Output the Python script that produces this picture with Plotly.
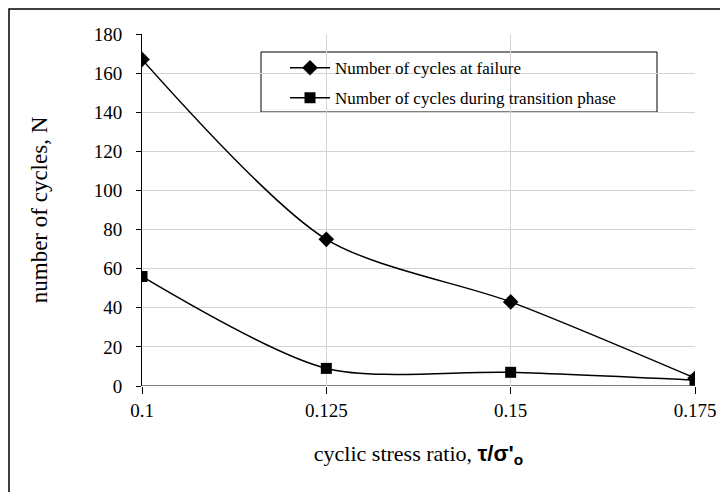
import plotly.graph_objects as go

x_vals = [0.1, 0.125, 0.15, 0.175]
failure = [167, 75, 43, 4]
transition = [56, 9, 7, 3]
name_fail = "Number of cycles at failure"
name_trans = "Number of cycles during transition phase"
y_ticks = [0, 20, 40, 60, 80, 100, 120, 140, 160, 180]
x_ticks = [0.1, 0.125, 0.15, 0.175]
x_labels = ["0.1", "0.125", "0.15", "0.175"]

serif = "Liberation Serif, Times New Roman, serif"

fig = go.Figure()
fig.add_trace(go.Scatter(x=x_vals, y=failure, name=name_fail, mode="lines+markers",
                         legendgroup="a",
                         line=dict(color="black", width=1.5, shape="spline", smoothing=0.8),
                         marker=dict(symbol="diamond", size=12, color="black")))
fig.add_trace(go.Scatter(x=x_vals, y=transition, name=name_trans, mode="lines+markers",
                         legendgroup="b",
                         line=dict(color="black", width=1.5, shape="spline", smoothing=0.8),
                         marker=dict(symbol="square", size=11, color="black")))

fig.update_layout(
    width=720, height=492,
    margin=dict(l=142, r=25, t=34, b=106),
    paper_bgcolor="white", plot_bgcolor="white",
    font=dict(family=serif, color="black", size=19),
    showlegend=True,
    legend=dict(x=0.2586, y=0.954, xanchor="left", yanchor="top",
                borderwidth=0, bgcolor="rgba(0,0,0,0)",
                font=dict(family=serif, size=17, color="black"),
                tracegroupgap=5, itemwidth=40),
    xaxis=dict(range=[0.1, 0.175], tickvals=x_ticks, ticktext=x_labels,
               showgrid=True, gridcolor="#d4d4d4", gridwidth=1,
               showline=False, zeroline=False, ticks="outside", ticklen=7,
               tickcolor="black", tickfont=dict(size=19, family=serif),
               automargin=False,
               title=dict(text="cyclic stress ratio, <b><span style='font-family:Arial'>τ/σ'<sub>o</sub></span></b>",
                          font=dict(size=22, family=serif), standoff=25)),
    yaxis=dict(range=[0, 180], tickvals=y_ticks,
               showgrid=True, gridcolor="#d4d4d4", gridwidth=1,
               showline=True, linecolor="black", linewidth=1,
               zeroline=False, ticks="outside", ticklen=5, tickcolor="black",
               ticklabelstandoff=10,
               tickfont=dict(size=19, family=serif), automargin=False,
               title=dict(text="number of cycles, N", font=dict(size=23, family=serif), standoff=39)),
    xaxis2=dict(overlaying="x", matches="x", range=[0.1, 0.175], tickvals=x_ticks,
                showticklabels=False, ticks="inside", ticklen=7, tickcolor="black",
                showgrid=False, zeroline=False, showline=False, anchor="y"),
    yaxis2=dict(overlaying="y", matches="y", range=[0, 180], tickvals=y_ticks,
                showticklabels=False, ticks="inside", ticklen=6, tickcolor="black",
                showgrid=False, zeroline=False, showline=False, anchor="x", side="left"),
)
# gray baseline at y=0
fig.add_shape(type="line", xref="paper", yref="y", x0=0, x1=1, y0=0, y1=0,
              line=dict(color="#808080", width=2), layer="between")
# legend frame
fig.add_shape(type="rect", xref="paper", yref="paper", x0=0.2152, x1=0.9313, y0=0.7784, y1=0.9489,
              line=dict(color="black", width=1), fillcolor="white", layer="between")
# outer chart border
fig.add_shape(type="rect", xref="paper", yref="paper", x0=-0.2405, x1=1.06, y0=-0.33, y1=1.071,
              line=dict(color="black", width=1.5))

fig.write_html("out.html", config={"displayModeBar": False},
               post_script="document.body.style.margin='0px';")
